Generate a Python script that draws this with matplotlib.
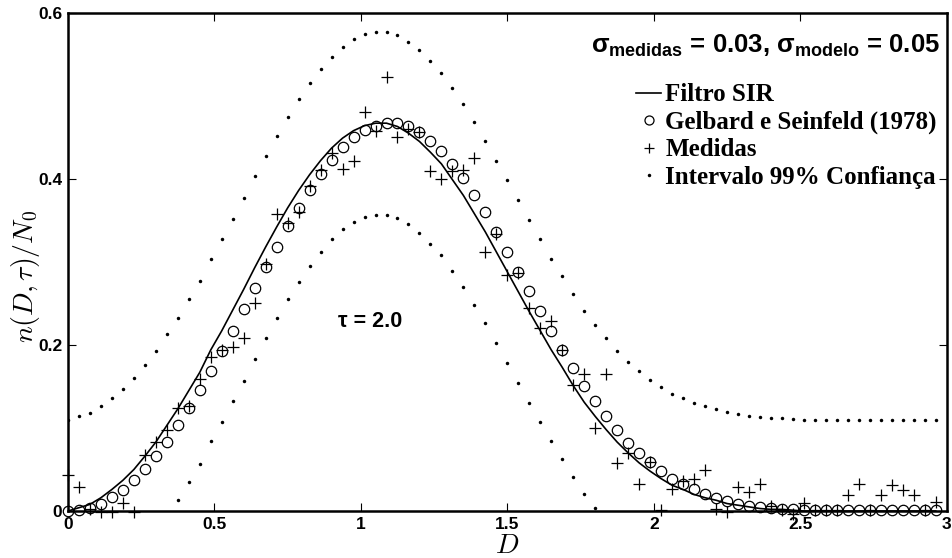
import numpy as np
import matplotlib
matplotlib.use('Agg')
import matplotlib.pyplot as plt
from matplotlib.lines import Line2D
from matplotlib.ticker import FormatStrFormatter

plt.rcParams['mathtext.fontset'] = 'custom'
plt.rcParams['mathtext.rm'] = 'Liberation Sans:bold'
plt.rcParams['mathtext.bf'] = 'Liberation Sans:bold'

# diameters D, sampled every 0.0375
D = np.linspace(0, 2.9625, 80)

# Filtro SIR estimate
sir = [0.000, 0.004, 0.008, 0.016, 0.026, 0.037, 0.050, 0.066, 0.083, 0.103,
       0.123, 0.145, 0.167, 0.194, 0.217, 0.242, 0.267, 0.293, 0.318, 0.342,
       0.365, 0.386, 0.405, 0.422, 0.437, 0.449, 0.458, 0.464, 0.467, 0.467,
       0.463, 0.455, 0.445, 0.432, 0.418, 0.399, 0.380, 0.358, 0.336, 0.312,
       0.288, 0.264, 0.240, 0.217, 0.194, 0.173, 0.151, 0.131, 0.114, 0.098,
       0.083, 0.070, 0.058, 0.048, 0.039, 0.031, 0.026, 0.020, 0.016, 0.013,
       0.009, 0.007, 0.005, 0.003, 0.002, 0.002, 0.001, 0.000, 0.000, 0.000,
       0.000, 0.000, 0.000, 0.000, 0.000, 0.000, 0.000, 0.000, 0.000, 0.000]

# Gelbard e Seinfeld (1978)
gelbard = [0.000, 0.001, 0.004, 0.009, 0.0165, 0.025, 0.037, 0.051, 0.066, 0.083,
           0.103, 0.124, 0.146, 0.169, 0.193, 0.217, 0.243, 0.268, 0.294, 0.318,
           0.343, 0.365, 0.387, 0.406, 0.423, 0.438, 0.450, 0.459, 0.464, 0.467,
           0.467, 0.463, 0.456, 0.446, 0.434, 0.418, 0.401, 0.381, 0.360, 0.336,
           0.312, 0.288, 0.265, 0.241, 0.217, 0.194, 0.172, 0.151, 0.1325, 0.1145,
           0.098, 0.082, 0.0695, 0.059, 0.0486, 0.039, 0.033, 0.026, 0.021, 0.016,
           0.012, 0.009, 0.006, 0.005, 0.004, 0.003, 0.002, 0.0012, 0.001, 0.001,
           0.001, 0.001, 0.001, 0.001, 0.001, 0.001, 0.001, 0.001, 0.001, 0.001]

# Medidas
medidas = [0.043, 0.029, 0.003, -0.001, -0.001, 0.010, -0.001, 0.067, 0.083, 0.097,
           0.124, 0.126, 0.159, 0.186, 0.194, 0.197, 0.208, 0.251, 0.297, 0.358,
           0.347, 0.360, 0.391, 0.411, 0.431, 0.412, 0.421, 0.480, 0.457, 0.523,
           0.450, 0.460, 0.456, 0.409, 0.400, 0.409, 0.411, 0.425, 0.312, 0.333,
           0.284, 0.287, 0.244, 0.220, 0.229, 0.194, 0.152, 0.165, 0.100, 0.165,
           0.058, 0.070, 0.033, 0.059, 0.001, 0.027, 0.036, 0.039, 0.049, 0.003,
           -0.001, 0.029, 0.023, 0.0325, 0.006, 0.001, -0.003, 0.010, 0.001, 0.001,
           0.001, 0.019, 0.033, 0.001, 0.019, 0.031, 0.025, 0.019, 0.001, 0.011]

# Intervalo 99% Confianca
upper = [0.110, 0.114, 0.118, 0.126, 0.136, 0.147, 0.160, 0.176, 0.193, 0.213,
         0.233, 0.255, 0.277, 0.304, 0.327, 0.352, 0.377, 0.403, 0.428, 0.452,
         0.475, 0.496, 0.515, 0.532, 0.547, 0.559, 0.568, 0.574, 0.577, 0.577,
         0.573, 0.565, 0.555, 0.542, 0.528, 0.509, 0.490, 0.468, 0.446, 0.422,
         0.398, 0.374, 0.350, 0.327, 0.304, 0.283, 0.261, 0.241, 0.224, 0.208,
         0.193, 0.180, 0.168, 0.158, 0.149, 0.141, 0.136, 0.130, 0.126, 0.123,
         0.119, 0.117, 0.115, 0.113, 0.112, 0.112, 0.111, 0.110, 0.110, 0.110,
         0.109, 0.109, 0.109, 0.109, 0.109, 0.109, 0.109, 0.109, 0.109, 0.109]
lower = [-0.110, -0.106, -0.102, -0.094, -0.084, -0.073, -0.060, -0.044, -0.027, -0.007,
         0.013, 0.035, 0.057, 0.084, 0.107, 0.132, 0.157, 0.183, 0.208, 0.232,
         0.255, 0.276, 0.295, 0.312, 0.327, 0.339, 0.348, 0.354, 0.357, 0.357,
         0.353, 0.345, 0.335, 0.322, 0.308, 0.289, 0.270, 0.248, 0.226, 0.202,
         0.178, 0.154, 0.130, 0.107, 0.084, 0.063, 0.041, 0.021, 0.004, -0.012,
         -0.027, -0.040, -0.052, -0.062, -0.071, -0.079, -0.084, -0.090, -0.094, -0.097,
         -0.101, -0.103, -0.105, -0.107, -0.108, -0.108, -0.109, -0.110, -0.110, -0.110,
         -0.111, -0.111, -0.111, -0.111, -0.111, -0.111, -0.111, -0.111, -0.111, -0.111]

fig = plt.figure(figsize=(9.52, 5.58), dpi=100)
ax = fig.add_axes([0.0714, 0.0842, 0.9230, 0.8930])

ax.plot(D, upper, 'o', color='k', markersize=2.5, markeredgewidth=0)
ax.plot(D, lower, 'o', color='k', markersize=2.5, markeredgewidth=0)
ax.plot(D, gelbard, 'o', mfc='none', mec='k', markersize=7.5, markeredgewidth=0.9, clip_on=False)
ax.plot(D, medidas, '+', color='k', markersize=8, markeredgewidth=0.9, clip_on=False)
ax.plot(D, sir, '-', color='k', linewidth=1.2)

ax.set_xlim(0, 3)
ax.set_ylim(0, 0.6)
ax.set_xticks([0, 0.5, 1, 1.5, 2, 2.5, 3])
ax.set_yticks([0, 0.2, 0.4, 0.6])
ax.xaxis.set_major_formatter(FormatStrFormatter('%g'))
ax.yaxis.set_major_formatter(FormatStrFormatter('%g'))
ax.tick_params(direction='in', length=6, width=0.8, top=True, right=True, pad=4)
for lab in ax.get_xticklabels() + ax.get_yticklabels():
    lab.set_fontfamily('Liberation Sans')
    lab.set_fontweight('bold')
    lab.set_fontsize(12.5)
for s in ax.spines.values():
    s.set_linewidth(1.8)

ax.set_xlabel('$D$', fontsize=20, math_fontfamily='cm')
ax.set_ylabel(r'$n(D,\tau)/N_0$', fontsize=20, math_fontfamily='cm')
ax.xaxis.label.set_va('center')
ax.yaxis.label.set_va('center')
ax.xaxis.set_label_coords(0.5, -0.068)
ax.yaxis.set_label_coords(-0.048, 0.47)

ax.text(1.03, 0.228, 'τ = 2.0', fontsize=15.5, fontweight='bold', family='Liberation Sans',
        ha='center', va='center')
ax.text(0.992, 0.933, r'σ$_{\mathbf{medidas}}$ = 0.03, σ$_{\mathbf{modelo}}$ = 0.05',
        transform=ax.transAxes, fontsize=18.5, fontweight='bold', family='Liberation Sans',
        ha='right', va='center')

handles = [Line2D([], [], color='k', linewidth=1.2),
           Line2D([], [], marker='o', ls='none', mfc='none', mec='k', markersize=6.5, markeredgewidth=0.9),
           Line2D([], [], marker='+', ls='none', color='k', markersize=6.5, markeredgewidth=0.9),
           Line2D([], [], marker='o', ls='none', color='k', markersize=2.5, markeredgewidth=0)]
labels = ['Filtro SIR', 'Gelbard e Seinfeld (1978)', 'Medidas', 'Intervalo 99% Confiança']
ax.legend(handles, labels, loc='upper left', bbox_to_anchor=(0.647, 0.858), frameon=False,
          borderpad=0, borderaxespad=0, handlelength=1.0, handletextpad=0.15, labelspacing=0.17,
          prop={'family': 'Liberation Serif', 'weight': 'bold', 'size': 18})

plt.savefig('out.png', dpi=100)
